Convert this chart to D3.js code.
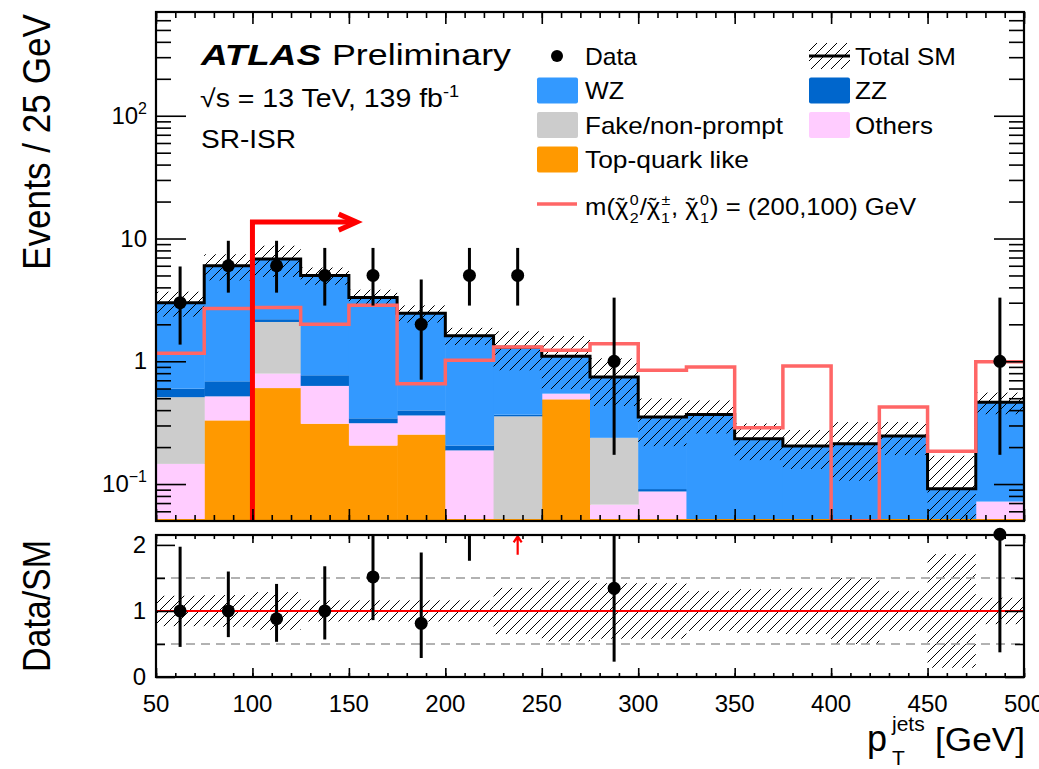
<!DOCTYPE html>
<html>
<head>
<meta charset="utf-8">
<script src="https://cdn.jsdelivr.net/npm/d3@7/dist/d3.min.js"></script>
<style>
  html, body { margin: 0; padding: 0; background: #fff; }
  svg text { font-family: "Liberation Sans", Arial, Helvetica, sans-serif; fill: #000; }
</style>
</head>
<body>
<svg id="chart" width="1039" height="769"></svg>
<script>
// ---------------- binning (GeV) ----------------
const binEdges = [50, 75, 100, 125, 150, 175, 200, 225, 250, 275, 300, 325, 350, 375, 400, 425, 450, 475, 500];

// ---------------- SM background yields (events / 25 GeV), stacked bottom -> top ----------------
const topQuark = [0, 0.33, 0.605, 0.31, 0.206, 0.253, 0, 0, 0.49, 0, 0, 0, 0, 0, 0, 0, 0, 0];
const others   = [0.146, 0.188, 0.189, 0.32, 0.107, 0.109, 0.188, 0, 0.055, 0.068, 0.087, 0, 0, 0, 0, 0, 0, 0.072];
const fakeNP   = [0.364, 0, 1.296, 0, 0, 0, 0, 0.356, 0, 0.17, 0, 0, 0, 0, 0, 0, 0, 0];
const zz       = [0.088, 0.169, 0.11, 0.139, 0.03, 0.036, 0.018, 0.011, 0, 0, 0.004, 0, 0, 0, 0, 0, 0, 0];
const wz       = [2.402, 5.313, 4.6, 4.231, 2.957, 2.062, 1.409, 0.933, 0.555, 0.507, 0.26, 0.369, 0.234, 0.204, 0.213, 0.246, 0.0914, 0.391];

// relative total uncertainty on the SM prediction
const smRelUnc = [0.23, 0.24, 0.285, 0.16, 0.16, 0.16, 0.16, 0.35, 0.46, 0.42, 0.42, 0.3, 0.33, 0.35, 0.5, 0.3, 0.86, 0.2];

// ---------------- observed data with asymmetric Poisson errors ----------------
const dataCounts  = [3, 6, 6, 5, 5, 2, 5, 5, 0, 1, 0, 0, 0, 0, 0, 0, 0, 1];
const dataErrLow  = [1.633, 2.377, 2.377, 2.158, 2.158, 1.292, 2.158, 2.158, 0, 0.827, 0, 0, 0, 0, 0, 0, 0, 0.827];
const dataErrHigh = [2.918, 3.583, 3.583, 3.382, 3.382, 2.637, 3.382, 3.382, 0, 2.299, 0, 0, 0, 0, 0, 0, 0, 2.299];

// ---------------- signal m(chi2/chi1pm, chi1) = (200,100) GeV ----------------
const signalYield = [1.16, 2.69, 2.74, 2.0, 2.86, 0.657, 1.02, 1.31, 1.23, 1.39, 0.845, 0.9, 0.287, 0.915, 0, 0.424, 0.185, 0.99];

// ---------------- selection cut arrow ----------------
const cutValue = 100;      // GeV
const cutArrowHeight = 13.6;
const cutArrowEnd = 153;   // GeV

// ---------------- axis ticks ----------------
const xMajorTicks = [50, 100, 150, 200, 250, 300, 350, 400, 450, 500];
const xMinorTicks = d3.range(50, 501, 10);
const logMajorTicks = [0.1, 1, 10, 100];
const logTickLabels = [["10", "\u22121"], ["1", ""], ["10", ""], ["10", "2"]];
const ratioMajorTicks = [0, 1, 2];
const ratioMinorTicks = [0.5, 1.5];
const ratioGuides = [0.5, 1.5];

// ---------------- colours ----------------
const colors = {
  topQuark: "#ff9900",
  others: "#ffccff",
  fakeNP: "#cccccc",
  zz: "#0066cc",
  wz: "#3399ff",
  signal: "#ff6666",
  cut: "#ff0000"
};

// ---------------- geometry ----------------
const main = { left: 156, right: 1024, top: 12, bottom: 521 };
const rat  = { left: 156, right: 1024, top: 535, bottom: 677 };
const yMin = 0.05, yMax = 700;
const rMax = 2.15;

const svg = d3.select("#chart");
const x  = d3.scaleLinear().domain([50, 500]).range([main.left, main.right]);
const y  = d3.scaleLog().domain([yMin, yMax]).range([main.bottom, main.top]);
const yr = d3.scaleLinear().domain([0, rMax]).range([rat.bottom, rat.top]);
const yc = v => y(Math.max(v, yMin));

// ---------------- defs: hatch + clip ----------------
const defs = svg.append("defs");
const pat = defs.append("pattern").attr("id", "hatch")
  .attr("patternUnits", "userSpaceOnUse").attr("width", 10).attr("height", 10);
pat.append("path").attr("d", "M-2,2 l4,-4 M0,10 l10,-10 M8,12 l4,-4")
  .attr("stroke", "#000").attr("stroke-width", 1).attr("fill", "none");
defs.append("clipPath").attr("id", "clipMain").append("rect")
  .attr("x", main.left).attr("y", main.top).attr("width", main.right - main.left).attr("height", main.bottom - main.top);
defs.append("clipPath").attr("id", "clipRatio").append("rect")
  .attr("x", rat.left).attr("y", rat.top).attr("width", rat.right - rat.left).attr("height", rat.bottom - rat.top);

// ---------------- stacked backgrounds ----------------
const bins = binEdges.slice(0, -1).map((lo, i) => ({
  lo, hi: binEdges[i + 1], centre: (lo + binEdges[i + 1]) / 2,
  topQuark: topQuark[i], others: others[i], fakeNP: fakeNP[i], zz: zz[i], wz: wz[i]
}));
const keys = ["topQuark", "others", "fakeNP", "zz", "wz"];
const stack = d3.stack().keys(keys)(bins);
bins.forEach((b, i) => { b.total = d3.sum(keys, k => b[k]); b.unc = smRelUnc[i]; });

const gMain = svg.append("g").attr("clip-path", "url(#clipMain)");

stack.forEach(layer => {
  gMain.append("g").attr("fill", colors[layer.key])
    .selectAll("rect").data(layer.filter(d => d[1] - d[0] > 0)).join("rect")
    .attr("x", d => x(d.data.lo))
    .attr("width", d => x(d.data.hi) - x(d.data.lo) + 0.5)
    .attr("y", d => yc(d[1]))
    .attr("height", d => yc(d[0]) - yc(d[1]));
});

// top-quark baseline at the foot of the stack
gMain.append("line")
  .attr("x1", x(binEdges[0])).attr("x2", x(binEdges[binEdges.length - 1]))
  .attr("y1", y(yMin) - 1).attr("y2", y(yMin) - 1)
  .attr("stroke", colors.topQuark).attr("stroke-width", 2);

// total SM uncertainty band
gMain.append("g").selectAll("rect").data(bins).join("rect")
  .attr("x", d => x(d.lo)).attr("width", d => x(d.hi) - x(d.lo))
  .attr("y", d => yc(d.total * (1 + d.unc)))
  .attr("height", d => yc(d.total * (1 - d.unc)) - yc(d.total * (1 + d.unc)))
  .attr("fill", "url(#hatch)");

// step outline helper
const stepPts = vals => {
  const pts = vals.map((v, i) => [binEdges[i], v]);
  pts.push([binEdges[binEdges.length - 1], vals[vals.length - 1]]);
  return pts;
};
const stepLine = d3.line().x(d => x(d[0])).y(d => yc(d[1])).curve(d3.curveStepAfter);

gMain.append("path").attr("d", stepLine(stepPts(bins.map(b => b.total))))
  .attr("fill", "none").attr("stroke", "#000").attr("stroke-width", 3);

gMain.append("path").attr("d", stepLine(stepPts(signalYield)))
  .attr("fill", "none").attr("stroke", colors.signal).attr("stroke-width", 3.5);

// cut arrow
const ax = x(cutValue), ayTop = y(cutArrowHeight), axEnd = x(cutArrowEnd);
svg.append("path")
  .attr("d", `M${ax},${y(yMin)} L${ax},${ayTop} L${axEnd},${ayTop}`)
  .attr("fill", "none").attr("stroke", colors.cut).attr("stroke-width", 5);
svg.append("path")
  .attr("d", `M${axEnd - 16},${ayTop - 8} L${axEnd + 2},${ayTop} L${axEnd - 16},${ayTop + 8}`)
  .attr("fill", "none").attr("stroke", colors.cut).attr("stroke-width", 5).attr("stroke-linejoin", "miter");

// data points
const dataPts = bins.map((b, i) => ({ x: b.centre, n: dataCounts[i], lo: dataErrLow[i], hi: dataErrHigh[i], total: b.total }))
  .filter(d => d.n > 0);
const gData = svg.append("g").attr("clip-path", "url(#clipMain)");
gData.selectAll("line").data(dataPts).join("line")
  .attr("x1", d => x(d.x)).attr("x2", d => x(d.x))
  .attr("y1", d => yc(d.n - d.lo)).attr("y2", d => yc(d.n + d.hi))
  .attr("stroke", "#000").attr("stroke-width", 3);
gData.selectAll("circle").data(dataPts).join("circle")
  .attr("cx", d => x(d.x)).attr("cy", d => y(d.n)).attr("r", 6.5).attr("fill", "#000");

// ---------------- ratio panel ----------------
const gRat = svg.append("g").attr("clip-path", "url(#clipRatio)");
gRat.selectAll("rect.band").data(bins).join("rect").attr("class", "band")
  .attr("x", d => x(d.lo)).attr("width", d => x(d.hi) - x(d.lo))
  .attr("y", d => yr(1 + d.unc)).attr("height", d => yr(1 - d.unc) - yr(1 + d.unc))
  .attr("fill", "url(#hatch)");
gRat.selectAll("line.guide").data(ratioGuides).join("line").attr("class", "guide")
  .attr("x1", rat.left).attr("x2", rat.right).attr("y1", d => yr(d)).attr("y2", d => yr(d))
  .attr("stroke", "#999").attr("stroke-width", 1.5).attr("stroke-dasharray", "9,6");
gRat.append("line").attr("x1", rat.left).attr("x2", rat.right).attr("y1", yr(1)).attr("y2", yr(1))
  .attr("stroke", "#ff0000").attr("stroke-width", 2);

const ratioPts = dataPts.map(d => ({ x: d.x, r: d.n / d.total, rlo: (d.n - d.lo) / d.total, rhi: (d.n + d.hi) / d.total }));
const inRange = ratioPts.filter(d => d.rlo <= rMax);
const offScale = ratioPts.filter(d => d.rlo > rMax);
gRat.selectAll("line.err").data(inRange).join("line").attr("class", "err")
  .attr("x1", d => x(d.x)).attr("x2", d => x(d.x))
  .attr("y1", d => yr(d.rlo)).attr("y2", d => yr(Math.min(d.rhi, rMax + 0.2)))
  .attr("stroke", "#000").attr("stroke-width", 3);
svg.append("g").selectAll("circle").data(inRange.filter(d => d.r <= rMax + 0.05)).join("circle")
  .attr("cx", d => x(d.x)).attr("cy", d => yr(d.r)).attr("r", 6.5).attr("fill", "#000");
offScale.forEach(d => {
  const cx = x(d.x), y0 = yr(1.85), y1 = yr(2.13);
  svg.append("path").attr("d", `M${cx},${y0} L${cx},${y1} M${cx - 4},${y1 + 6} L${cx},${y1} L${cx + 4},${y1 + 6}`)
    .attr("fill", "none").attr("stroke", "#ff0000").attr("stroke-width", 2.2);
});

// ---------------- ticks ----------------
function ticks(axisFn, scale, values, size, tx, ty) {
  const g = svg.append("g").attr("transform", `translate(${tx},${ty})`)
    .call(axisFn(scale).tickValues(values).tickSize(size).tickFormat(""));
  g.select(".domain").remove();
  g.selectAll(".tick text").remove();
  g.selectAll(".tick line").attr("stroke", "#000").attr("stroke-width", 1.6);
}
const logMinor = [];
[-2, -1, 0, 1, 2].forEach(e => d3.range(2, 10).forEach(m => {
  const v = m * Math.pow(10, e);
  if (v > yMin && v < yMax) logMinor.push(v);
}));
// main panel
ticks(d3.axisBottom, x, xMinorTicks, -6, 0, main.bottom);
ticks(d3.axisBottom, x, xMajorTicks, -12, 0, main.bottom);
ticks(d3.axisTop, x, xMinorTicks, -6, 0, main.top);
ticks(d3.axisTop, x, xMajorTicks, -12, 0, main.top);
ticks(d3.axisLeft, y, logMinor, -15, main.left, 0);
ticks(d3.axisLeft, y, logMajorTicks, -30, main.left, 0);
ticks(d3.axisRight, y, logMinor, -15, main.right, 0);
ticks(d3.axisRight, y, logMajorTicks, -30, main.right, 0);
// ratio panel
ticks(d3.axisBottom, x, xMinorTicks, -4, 0, rat.bottom);
ticks(d3.axisBottom, x, xMajorTicks, -9, 0, rat.bottom);
ticks(d3.axisTop, x, xMinorTicks, -4, 0, rat.top);
ticks(d3.axisTop, x, xMajorTicks, -8, 0, rat.top);
ticks(d3.axisLeft, yr, ratioMinorTicks, -9, rat.left, 0);
ticks(d3.axisLeft, yr, ratioMajorTicks, -19, rat.left, 0);
ticks(d3.axisRight, yr, ratioMinorTicks, -9, rat.right, 0);
ticks(d3.axisRight, yr, ratioMajorTicks, -19, rat.right, 0);

// frames
[main, rat].forEach(p => svg.append("rect")
  .attr("x", p.left).attr("y", p.top).attr("width", p.right - p.left).attr("height", p.bottom - p.top)
  .attr("fill", "none").attr("stroke", "#000").attr("stroke-width", 2.2));

// ---------------- tick labels ----------------
const lblSize = 24;
svg.append("g").selectAll("text").data(xMajorTicks).join("text")
  .attr("x", d => x(d)).attr("y", 712).attr("text-anchor", "middle")
  .attr("font-size", lblSize).text(d => d);

logMajorTicks.forEach((v, i) => {
  const [base, sup] = logTickLabels[i];
  const t = svg.append("text").attr("x", 147).attr("y", y(v) + 8).attr("text-anchor", "end").attr("font-size", lblSize);
  t.append("tspan").text(base);
  if (sup) t.append("tspan").attr("dy", -10).attr("font-size", 16).text(sup);
});
svg.append("g").selectAll("text").data(ratioMajorTicks).join("text")
  .attr("x", 146).attr("y", d => yr(d) + 8).attr("text-anchor", "end")
  .attr("font-size", lblSize).text(d => d);

// ---------------- axis titles ----------------
svg.append("text").attr("transform", `translate(50,142) scale(1.12,1) rotate(-90)`)
  .attr("text-anchor", "middle").attr("font-size", 35)
  .attr("textLength", 256).attr("lengthAdjust", "spacingAndGlyphs").text("Events / 25 GeV");
svg.append("text").attr("transform", `translate(50,606) scale(1.12,1) rotate(-90)`)
  .attr("text-anchor", "middle").attr("font-size", 35)
  .attr("textLength", 132).attr("lengthAdjust", "spacingAndGlyphs").text("Data/SM");

svg.append("text").attr("x", 867).attr("y", 751).attr("font-size", 36).text("p");
svg.append("text").attr("x", 892).attr("y", 731).attr("font-size", 21).text("jets");
svg.append("text").attr("x", 892).attr("y", 765).attr("font-size", 21).text("T");
svg.append("text").attr("x", 935).attr("y", 751).attr("font-size", 34)
  .attr("textLength", 90).attr("lengthAdjust", "spacingAndGlyphs").text("[GeV]");

// ---------------- ATLAS label ----------------
svg.append("text").attr("x", 201).attr("y", 65).attr("font-size", 30)
  .attr("font-weight", "bold").attr("font-style", "italic")
  .attr("textLength", 120).attr("lengthAdjust", "spacingAndGlyphs").text("ATLAS");
svg.append("text").attr("x", 332).attr("y", 65).attr("font-size", 30)
  .attr("textLength", 179).attr("lengthAdjust", "spacingAndGlyphs").text("Preliminary");
const lumi = svg.append("text").attr("transform", "translate(200,107) scale(1.14,1)").attr("font-size", 25);
lumi.append("tspan").text("\u221As = 13 TeV, 139 fb");
lumi.append("tspan").attr("dy", -10).attr("font-size", 16).text("-1");
svg.append("text").attr("x", 201).attr("y", 148).attr("font-size", 25)
  .attr("textLength", 95).attr("lengthAdjust", "spacingAndGlyphs").text("SR-ISR");

// ---------------- legend ----------------
const legendFont = 24;
const legendFill = [
  { label: "WZ", color: colors.wz, col: 0, row: 1, w: 39 },
  { label: "Fake/non-prompt", color: colors.fakeNP, col: 0, row: 2, w: 198 },
  { label: "Top-quark like", color: colors.topQuark, col: 0, row: 3, w: 164 },
  { label: "ZZ", color: colors.zz, col: 1, row: 1, w: 32 },
  { label: "Others", color: colors.others, col: 1, row: 2, w: 78 }
];
const legRowY = [56, 90.5, 125, 159.5];
const legSwX = [537, 809];
const legTxtX = [585, 855];
legendFill.forEach(e => {
  const cy = legRowY[e.row];
  svg.append("rect").attr("x", legSwX[e.col]).attr("y", cy - 13).attr("width", 41).attr("height", 26)
    .attr("rx", 2).attr("fill", e.color);
  svg.append("text").attr("x", legTxtX[e.col]).attr("y", cy + 8.5).attr("font-size", legendFont)
    .attr("textLength", e.w).attr("lengthAdjust", "spacingAndGlyphs").text(e.label);
});
// data entry
svg.append("circle").attr("cx", 557).attr("cy", legRowY[0]).attr("r", 6).attr("fill", "#000");
svg.append("text").attr("x", legTxtX[0]).attr("y", legRowY[0] + 8.5).attr("font-size", legendFont)
  .attr("textLength", 52).attr("lengthAdjust", "spacingAndGlyphs").text("Data");
// total SM entry
svg.append("rect").attr("x", legSwX[1]).attr("y", legRowY[0] - 13).attr("width", 41).attr("height", 26)
  .attr("fill", "url(#hatch)");
svg.append("line").attr("x1", legSwX[1]).attr("x2", legSwX[1] + 41)
  .attr("y1", legRowY[0]).attr("y2", legRowY[0]).attr("stroke", "#000").attr("stroke-width", 3);
svg.append("text").attr("x", legTxtX[1]).attr("y", legRowY[0] + 8.5).attr("font-size", legendFont)
  .attr("textLength", 101).attr("lengthAdjust", "spacingAndGlyphs").text("Total SM");
// signal entry
svg.append("line").attr("x1", 537).attr("x2", 577).attr("y1", 204).attr("y2", 204)
  .attr("stroke", colors.signal).attr("stroke-width", 3.5);
const sig = svg.append("text").attr("transform", "translate(585,215) scale(1.07,1)").attr("font-size", legendFont);
// chi-tilde with stacked super/subscript; returns the dy needed to get back to the baseline
const chi = (t, sup, sub, supW) => {
  t.append("tspan").text("\u03C7");
  t.append("tspan").attr("dx", -10.5).attr("dy", -3).attr("font-size", 20).text("\u02DC");
  t.append("tspan").attr("dx", 5).attr("dy", -7).attr("font-size", 15).text(sup);
  t.append("tspan").attr("dx", -supW).attr("dy", 18).attr("font-size", 15).text(sub);
  return -8;
};
sig.append("tspan").text("m(");
let back = chi(sig, "0", "2", 8.3);
sig.append("tspan").attr("dx", 1).attr("dy", back).text("/");
back = chi(sig, "\u00B1", "1", 8.8);
sig.append("tspan").attr("dx", 1).attr("dy", back).text(", ");
back = chi(sig, "0", "1", 8.3);
sig.append("tspan").attr("dx", 1).attr("dy", back).text(") = (200,100) GeV");
</script>
</body>
</html>
